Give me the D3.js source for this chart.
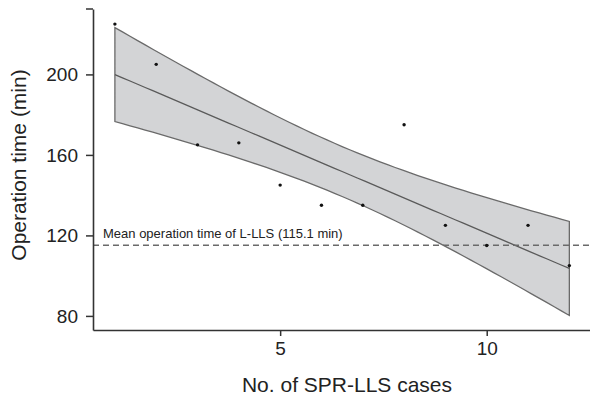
<!DOCTYPE html>
<html>
<head>
<meta charset="utf-8">
<script src="https://cdn.jsdelivr.net/npm/d3@7"></script>
<style>
  html, body { margin: 0; padding: 0; background: #fff; }
  svg { display: block; }
  text { font-family: "Liberation Sans", Arial, sans-serif; fill: #222; }
</style>
</head>
<body>
<svg id="chart" width="590" height="398"></svg>
<script>
// ---- Data ----
const caseNo = [1, 2, 3, 4, 5, 6, 7, 8, 9, 10, 11, 12];
const opTime = [225, 205, 165, 166, 145, 135, 135, 175, 125, 115, 125, 105];
const meanLLLS = 115.1;
const meanLabel = "Mean operation time of L-LLS (115.1 min)";
const xTicks = [5, 10];
const yTicks = [80, 120, 160, 200];
const xTitle = "No. of SPR-LLS cases";
const yTitle = "Operation time (min)";
const tCrit = 2.228; // t(0.975, df = 10)

// ---- Layout ----
const svg = d3.select("#chart");
const x = d3.scaleLinear().domain([0.47, 12.5]).range([93, 590]);
const y = d3.scaleLinear().domain([73, 232.5]).range([330, 9]);

// ---- Linear regression with 95% CI ----
const n = caseNo.length;
const mx = d3.mean(caseNo), my = d3.mean(opTime);
let sxx = 0, sxy = 0;
caseNo.forEach((xi, i) => { sxx += (xi - mx) ** 2; sxy += (xi - mx) * (opTime[i] - my); });
const slope = sxy / sxx, icpt = my - slope * mx;
let sse = 0;
caseNo.forEach((xi, i) => { sse += (opTime[i] - (icpt + slope * xi)) ** 2; });
const sRes = Math.sqrt(sse / (n - 2));
const xs = d3.range(0, 61).map(k => d3.min(caseNo) + k * (d3.max(caseNo) - d3.min(caseNo)) / 60);
const fit = xs.map(xv => {
  const yh = icpt + slope * xv;
  const h = tCrit * sRes * Math.sqrt(1 / n + (xv - mx) ** 2 / sxx);
  return { x: xv, y: yh, lo: yh - h, hi: yh + h };
});

// band
svg.append("path")
  .datum(fit)
  .attr("d", d3.area().x(d => x(d.x)).y0(d => y(d.lo)).y1(d => y(d.hi)))
  .attr("fill", "#d3d4d6")
  .attr("stroke", "#6a6a6a")
  .attr("stroke-width", 1.3);

// fit line
svg.append("path")
  .datum(fit)
  .attr("d", d3.line().x(d => x(d.x)).y(d => y(d.y)))
  .attr("fill", "none")
  .attr("stroke", "#5a5a5a")
  .attr("stroke-width", 1.3);

// mean reference line
svg.append("line")
  .attr("x1", x.range()[0]).attr("x2", x.range()[1])
  .attr("y1", y(meanLLLS)).attr("y2", y(meanLLLS))
  .attr("stroke", "#6a6a6a")
  .attr("stroke-width", 1.3)
  .attr("stroke-dasharray", "6,4");

svg.append("text")
  .attr("x", x.range()[0] + 10)
  .attr("y", y(meanLLLS) - 7)
  .attr("font-size", 13)
  .text(meanLabel);

// points
svg.append("g").selectAll("circle")
  .data(caseNo)
  .join("circle")
  .attr("cx", d => x(d))
  .attr("cy", (d, i) => y(opTime[i]))
  .attr("r", 1.7)
  .attr("fill", "#111");

// axes
const gx = svg.append("g")
  .attr("transform", `translate(0,${y.range()[0]})`)
  .call(d3.axisBottom(x).tickValues(xTicks).tickSize(6).tickSizeOuter(0).tickPadding(6));
const gy = svg.append("g")
  .attr("transform", `translate(${x.range()[0]},0)`)
  .call(d3.axisLeft(y).tickValues(yTicks).tickSize(7).tickSizeOuter(0).tickPadding(8));
// top outer tick of y axis
gy.append("line")
  .attr("x1", -7).attr("x2", 0)
  .attr("y1", y.range()[1]).attr("y2", y.range()[1])
  .attr("stroke", "#333").attr("stroke-width", 1.5);

[gx, gy].forEach(g => {
  g.select(".domain").attr("stroke", "#333").attr("stroke-width", 1.6);
  g.selectAll(".tick line").attr("stroke", "#333").attr("stroke-width", 1.5);
  g.selectAll(".tick text")
    .attr("font-family", '"Liberation Sans", Arial, sans-serif')
    .attr("font-size", 19)
    .attr("fill", "#222");
});

// titles
svg.append("text")
  .attr("x", 347)
  .attr("y", 392)
  .attr("text-anchor", "middle")
  .attr("font-size", 21)
  .text(xTitle);

svg.append("text")
  .attr("transform", "translate(26,165) rotate(-90)")
  .attr("text-anchor", "middle")
  .attr("font-size", 21)
  .text(yTitle);
</script>
</body>
</html>
